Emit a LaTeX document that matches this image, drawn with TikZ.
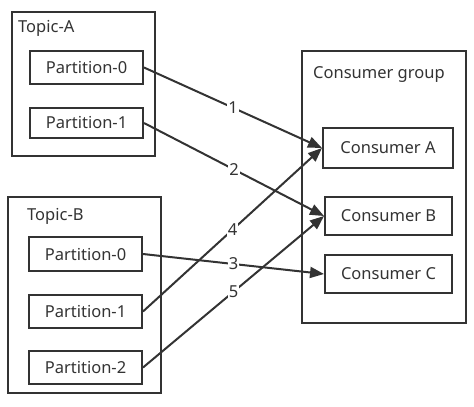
\documentclass[tikz,border=0pt]{standalone}
\usepackage{fontspec}
\setmainfont{Noto Sans}
\usetikzlibrary{arrows.meta}
\definecolor{ink}{HTML}{333333}
\begin{document}
\begin{tikzpicture}[x=1pt,y=-1pt,
  font=\fontsize{16.5}{19}\selectfont,
  every node/.style={text=ink},
  box/.style={draw=ink, line width=2pt, rectangle, inner sep=0pt},
  lbl/.style={anchor=west, inner sep=0pt},
  conn/.style={draw=ink, line width=2pt, -{Triangle[length=14pt,width=11pt]}},
  num/.style={midway, fill=white, inner sep=1pt}]
\useasboundingbox (0,0) rectangle (474,407);
% containers
\node[box, minimum width=143pt, minimum height=144pt] (ta) at (83.5,84) {};
\node[lbl] (tal) at (18,28) {Topic-A};
\node[box, minimum width=153pt, minimum height=196pt] (tb) at (84.5,295) {};
\node[lbl] (tbl) at (27,216) {Topic-B};
\node[box, minimum width=164pt, minimum height=272pt] (cg) at (384,187) {};
\node[lbl] (cgl) at (313,75) {Consumer group};
% partitions
\node[box, minimum width=113pt, minimum height=33pt] (pa0) at (86.5,67.5) {Partition-0};
\node[box, minimum width=113pt, minimum height=30pt] (pa1) at (86.5,123) {Partition-1};
\node[box, minimum width=113pt, minimum height=34pt] (pb0) at (85.5,254) {Partition-0};
\node[box, minimum width=113pt, minimum height=33pt] (pb1) at (85.5,311.5) {Partition-1};
\node[box, minimum width=113pt, minimum height=33pt] (pb2) at (85.5,367.5) {Partition-2};
% consumers
\node[box, minimum width=130pt, minimum height=40pt] (ca) at (388,148) {Consumer A};
\node[box, minimum width=127pt, minimum height=38pt] (cb) at (388.5,216) {Consumer B};
\node[box, minimum width=127pt, minimum height=38pt] (cc) at (388.5,274) {Consumer C};
% connectors
\draw[conn] (pa0.east) -- node[num] {1} (ca.west);
\draw[conn] (pa1.east) -- node[num] {2} (cb.west);
\draw[conn] (pb1.east) -- node[num] {4} (ca.west);
\draw[conn] (pb0.east) -- node[num] {3} (cc.west);
\draw[conn] (pb2.east) -- node[num] {5} (cb.west);
\end{tikzpicture}
\end{document}
